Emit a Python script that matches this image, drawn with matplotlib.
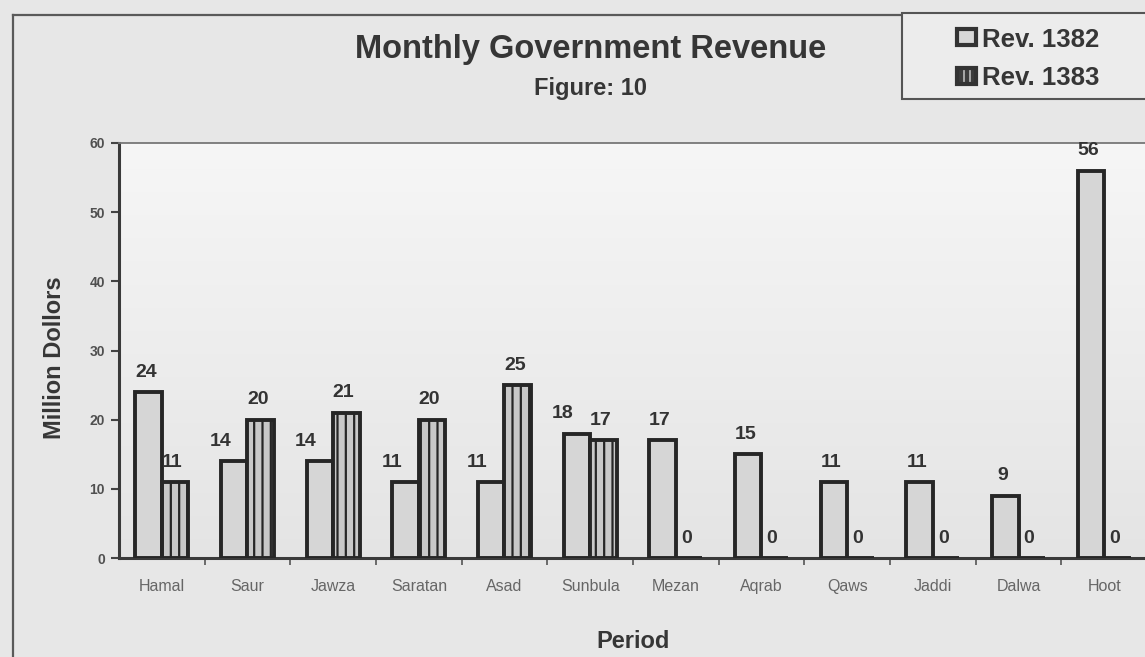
import numpy as np
import matplotlib
matplotlib.use("Agg")
import matplotlib.pyplot as plt
from matplotlib.patches import Rectangle
from matplotlib.lines import Line2D

# Revenue per month (million dollars)
periods = ["Hamal", "Saur", "Jawza", "Saratan", "Asad", "Sunbula",
           "Mezan", "Aqrab", "Qaws", "Jaddi", "Dalwa", "Hoot"]
rev_1382 = [24, 14, 14, 11, 11, 18, 17, 15, 11, 11, 9, 56]
rev_1383 = [11, 20, 21, 20, 25, 17, 0, 0, 0, 0, 0, 0]
series_names = ["Rev. 1382", "Rev. 1383"]
y_ticks = [0, 10, 20, 30, 40, 50, 60]

plt.rcParams['font.family'] = ['Liberation Sans', 'DejaVu Sans']
plt.rcParams['hatch.linewidth'] = 1.6

W, H = 1145, 657
fig = plt.figure(figsize=(W / 100, H / 100), dpi=100)
fig.patch.set_facecolor('#e7e7e7')


def fx(px):
    return px / W


def fy(py):
    return 1 - py / H


ax = fig.add_axes([fx(119), fy(558), fx(1028), (558 - 143) / H])
n = len(periods)
x = np.arange(n)

# soft vertical shading behind the bars
shade = np.linspace(0.965, 0.895, 200)[:, None] * np.ones((1, 2))
rgb = np.dstack([shade, shade, shade])
ax.imshow(rgb, extent=[-0.5, n - 0.5, 0, 60], aspect='auto', zorder=0,
          interpolation='bicubic')

bw = 0.31
edge = '#262626'
ax.bar(x - bw / 2, rev_1382, bw, color='#d6d6d6', edgecolor=edge,
       linewidth=2.8, zorder=3, label=series_names[0])
ax.bar(x + bw / 2, rev_1383, bw, color='#c8c8c8', edgecolor=edge,
       linewidth=2.8, hatch='||', zorder=3, label=series_names[1])

label_style = dict(textcoords='offset points', ha='center', va='baseline',
                   fontsize=14, fontweight='bold', color='#333333', zorder=5)
for xi, v, w in zip(x - bw / 2, rev_1382, rev_1383):
    # nudge left when the neighbouring bar is about as tall or taller
    dx = -10 if w >= v - 2 else -2
    ax.annotate(str(v), (xi, v), xytext=(dx, 11), **label_style)
for xi, v in zip(x + bw / 2, rev_1383):
    ax.annotate(str(v), (xi, v), xytext=(-2, 11), **label_style)

ax.set_xlim(-0.5, n - 0.5)
ax.set_ylim(0, 60)
ax.set_yticks(y_ticks)
ax.set_yticklabels([str(t) for t in y_ticks], fontsize=10, fontweight='bold',
                   color='#505050')
ax.tick_params(axis='y', direction='out', length=6, width=1.5,
               color='#444444', pad=4)

ax.set_xticks(x)
ax.set_xticklabels(periods, fontsize=11.5, color='#666666')
ax.tick_params(axis='x', which='major', length=0, pad=15)
ax.set_xticks(np.arange(0.5, n - 0.5, 1), minor=True)
ax.tick_params(axis='x', which='minor', direction='out', length=5,
               width=1.2, color='#555555')

ax.set_facecolor('#efefef')
for s in ['left', 'bottom']:
    ax.spines[s].set_linewidth(2.2)
    ax.spines[s].set_color('#3a3a3a')
ax.spines['top'].set_linewidth(1.3)
ax.spines['top'].set_color('#777777')
ax.spines['right'].set_visible(False)

# chart frame
fig.add_artist(Line2D([fx(13), fx(13)], [fy(15), 0], color='#5a5a5a', lw=1.6))
fig.add_artist(Line2D([fx(13), 1], [fy(15), fy(15)], color='#5a5a5a', lw=1.6))

# titles
fig.text(fx(591), fy(58), "Monthly Government Revenue", fontsize=23.5,
         fontweight='bold', color='#363636', ha='center', va='baseline')
fig.text(fx(591), fy(95), "Figure: 10", fontsize=17, fontweight='bold',
         color='#363636', ha='center', va='baseline')
fig.text(fx(55), fy(358), "Million Dollors", fontsize=17, fontweight='bold',
         color='#363636', ha='center', va='center', rotation=90)
fig.text(fx(633), fy(648), "Period", fontsize=17, fontweight='bold',
         color='#363636', ha='center', va='baseline')

# legend box
fig.add_artist(Rectangle((fx(902), fy(99)), fx(260), (99 - 13) / H,
                         transform=fig.transFigure, facecolor='#ececec',
                         edgecolor='#555555', lw=1.5, zorder=4))
fig.add_artist(Rectangle((fx(957), fy(45)), fx(19), 16 / H,
                         transform=fig.transFigure, facecolor='#d8d8d8',
                         edgecolor='#333333', lw=3.0, zorder=5))
fig.add_artist(Rectangle((fx(957), fy(84)), fx(19), 16 / H,
                         transform=fig.transFigure, facecolor='#3c3c3c',
                         edgecolor='#333333', lw=3.0, zorder=5))
for lx in (963.5, 969.5):
    fig.add_artist(Line2D([fx(lx), fx(lx)], [fy(81), fy(71)],
                          color='#b0b0b0', lw=1.3, zorder=6))
fig.text(fx(982), fy(47), series_names[0], fontsize=18.5, fontweight='bold',
         color='#363636', ha='left', va='baseline', zorder=6)
fig.text(fx(982), fy(85), series_names[1], fontsize=18.5, fontweight='bold',
         color='#363636', ha='left', va='baseline', zorder=6)

fig.savefig("out.png", dpi=100, facecolor=fig.get_facecolor())
